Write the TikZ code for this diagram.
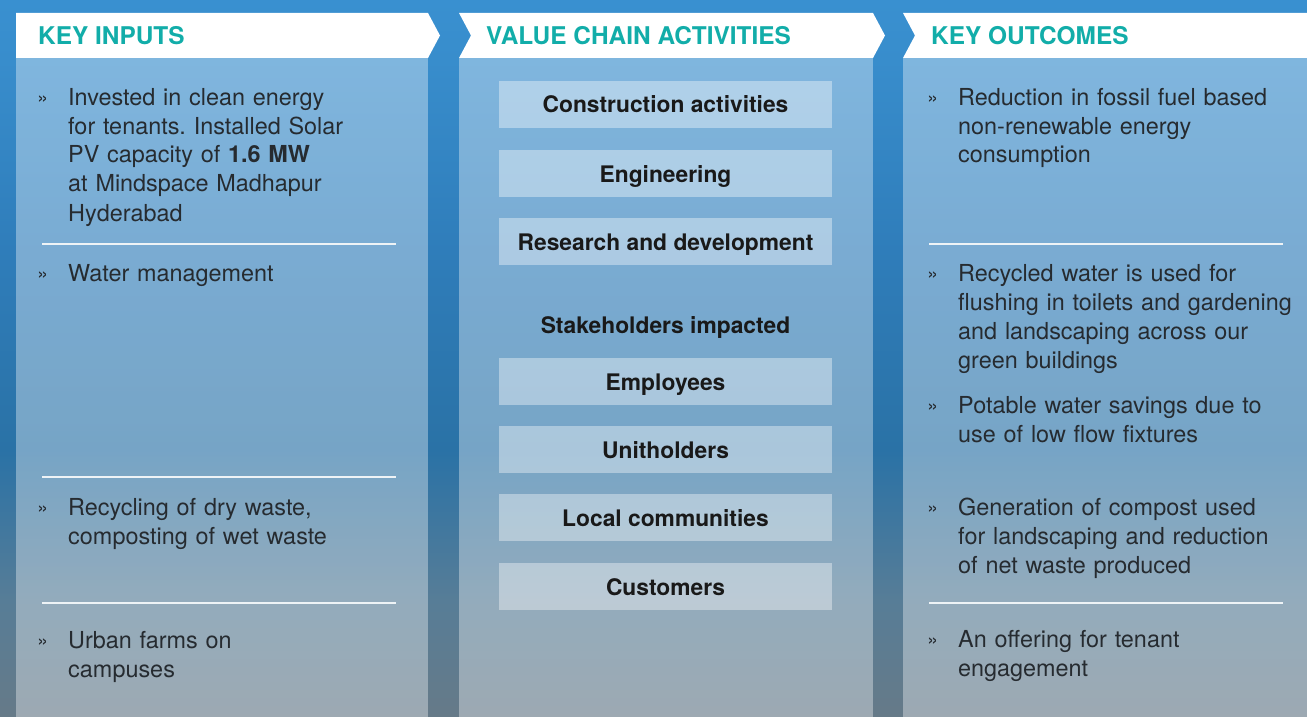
\documentclass[tikz,border=0pt]{standalone}
\usepackage{fontspec}
\setmainfont{TeX Gyre Heros}
\frenchspacing
\definecolor{tealc}{HTML}{12ADA9}
\definecolor{bodyc}{HTML}{262B30}
\definecolor{sepc}{HTML}{EEF3F6}
\definecolor{bg0}{HTML}{3990D0}
\definecolor{bg1}{HTML}{388DCC}
\definecolor{bg2}{HTML}{2F7DBA}
\definecolor{bg3}{HTML}{2A72A6}
\definecolor{bg4}{HTML}{577D97}
\definecolor{bg5}{HTML}{667A88}
\newcommand\dgbody{\fontsize{23.4}{29}\selectfont}
\newcommand\dghead{\fontsize{24.4}{29}\selectfont\bfseries}
\newcommand\dgboxf{\fontsize{22.8}{28}\selectfont\bfseries}
\newcommand\dgbul{\fontsize{20}{24}\selectfont}
\begin{document}
\begin{tikzpicture}[x=1pt,y=-1pt,
  head/.style={anchor=base west, inner sep=0pt, font=\dghead, text=tealc},
  item/.style={anchor=base west, inner sep=0pt, font=\dgbody, text=bodyc, align=left, text width=340pt},
  bul/.style={anchor=base west, inner sep=0pt, font=\dgbul, text=bodyc},
  sepline/.style={draw=sepc, line width=1.2pt},
  panel/.style={fill=white, fill opacity=0.36},
  vbox/.style={fill=white, fill opacity=0.38, text opacity=1, minimum width=333pt, minimum height=47pt, inner sep=0pt, text height=17pt, text depth=0pt, font=\dgboxf, text=black!90},
  hdr/.style={fill=white}]
\useasboundingbox (0,0) rectangle (1307,717);
% background
\shade[top color=bg0, bottom color=bg1] (0,0) rectangle (1307,60.5);
\shade[top color=bg1, bottom color=bg2] (0,60) rectangle (1307,250.5);
\shade[top color=bg2, bottom color=bg3] (0,250) rectangle (1307,450.5);
\shade[top color=bg3, bottom color=bg4] (0,450) rectangle (1307,600.5);
\shade[top color=bg4, bottom color=bg5] (0,600) rectangle (1307,717);
% panels
\fill[panel] (16,58) rectangle (428,717);
\fill[panel] (459,58) rectangle (873,717);
\fill[panel] (903,58) rectangle (1307,717);
% header chevrons
\fill[hdr] (16,13) -- (428,13) -- (440,35.5) -- (428,58) -- (16,58) -- cycle;
\fill[hdr] (459,13) -- (873,13) -- (885,35.5) -- (873,58) -- (459,58) -- (471,35.5) -- cycle;
\fill[hdr] (903,13) -- (1307,13) -- (1307,58) -- (903,58) -- (915,35.5) -- cycle;
\node[head] (h1) at (38,45) {KEY INPUTS};
\node[head] (h2) at (486,45) {VALUE CHAIN ACTIVITIES};
\node[head] (h3) at (931,45) {KEY OUTCOMES};
% column 1
\node[bul] (u1) at (37,104) {»};
\node[item] (i1) at (68,105) {Invested in clean energy\\for tenants. Installed Solar\\PV capacity of \textbf{1.6 MW}\\at Mindspace Madhapur\\Hyderabad};
\draw[sepline] (42,244) -- (396,244);
\node[bul] (u2) at (37,280) {»};
\node[item] (i2) at (68,281) {Water management};
\draw[sepline] (42,477) -- (396,477);
\node[bul] (u3) at (37,514) {»};
\node[item] (i3) at (68,515) {Recycling of dry waste,\\composting of wet waste};
\draw[sepline] (42,603) -- (396,603);
\node[bul] (u4) at (37,647) {»};
\node[item] (i4) at (68,648) {Urban farms on\\campuses};
% column 2
\node[vbox] (b1) at (665.5,104.5) {Construction activities};
\node[vbox] (b2) at (665.5,173.5) {Engineering};
\node[vbox] (b3) at (665.5,241.5) {Research and development};
\node[anchor=base, inner sep=0pt, font=\dgboxf, text=black!90] (st) at (665.5,333) {Stakeholders impacted};
\node[vbox] (b4) at (665.5,381.5) {Employees};
\node[vbox] (b5) at (665.5,449.5) {Unitholders};
\node[vbox] (b6) at (665.5,517.5) {Local communities};
\node[vbox] (b7) at (665.5,586.5) {Customers};
% column 3
\node[bul] (v1) at (927,104) {»};
\node[item] (o1) at (958,105) {Reduction in fossil fuel based\\non-renewable energy\\consumption};
\draw[sepline] (929,244) -- (1283,244);
\node[bul] (v2) at (927,280) {»};
\node[item] (o2) at (958,281) {Recycled water is used for\\flushing in toilets and gardening\\and landscaping across our\\green buildings};
\node[bul] (v3) at (927,412) {»};
\node[item] (o3) at (958,413) {Potable water savings due to\\use of low flow fixtures};
\node[bul] (v4) at (927,514) {»};
\node[item] (o4) at (958,515) {Generation of compost used\\for landscaping and reduction\\of net waste produced};
\draw[sepline] (929,603) -- (1283,603);
\node[bul] (v5) at (927,646) {»};
\node[item] (o5) at (958,647) {An offering for tenant\\engagement};
\end{tikzpicture}
\end{document}
